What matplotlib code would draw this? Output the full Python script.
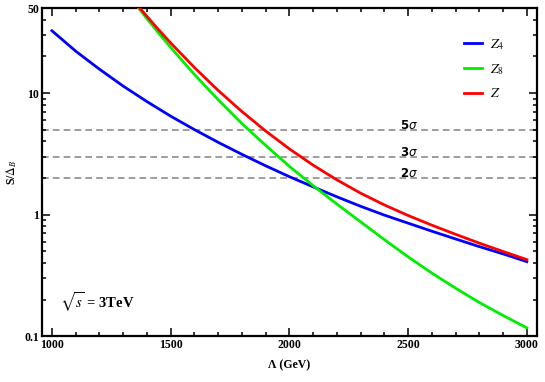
#!/usr/bin/env python3

import matplotlib
matplotlib.use("Agg")
import matplotlib.pyplot as plt
from matplotlib.ticker import FixedLocator, FixedFormatter, LogLocator, MultipleLocator, NullFormatter

# Values (Lambda in GeV, S/Delta_B)
lam_z4 = [1000, 1100, 1200, 1300, 1400, 1500, 1600, 1700, 1800, 1900, 2000,
          2100, 2200, 2300, 2400, 2500, 2600, 2700, 2800, 2900, 3000]
sig_z4 = [32.5, 22.1, 15.7, 11.4, 8.5, 6.45, 5.0, 3.93, 3.13, 2.52, 2.05,
          1.69, 1.40, 1.17, 0.99, 0.85, 0.73, 0.63, 0.545, 0.475, 0.41]

lam_z8 = [1365, 1400, 1450, 1500, 1600, 1700, 1800, 1900, 2000, 2100, 2200,
          2300, 2400, 2500, 2600, 2700, 2800, 2900, 3000]
sig_z8 = [50.0, 40.9, 31.0, 23.7, 14.2, 8.80, 5.60, 3.71, 2.49, 1.73, 1.22,
          0.871, 0.622, 0.449, 0.330, 0.248, 0.189, 0.148, 0.117]

lam_z = [1370, 1400, 1450, 1500, 1600, 1700, 1800, 1900, 2000, 2100, 2200,
         2300, 2400, 2500, 2600, 2700, 2800, 2900, 3000]
sig_z = [50.0, 42.7, 33.0, 25.8, 16.2, 10.5, 7.04, 4.87, 3.47, 2.55, 1.93,
         1.50, 1.20, 0.983, 0.818, 0.688, 0.582, 0.497, 0.426]

sigma_levels = [5, 3, 2]
sigma_labels = ["5$\\sigma$", "3$\\sigma$", "2$\\sigma$"]

plt.rcParams["mathtext.fontset"] = "stix"
plt.rcParams["font.family"] = "Liberation Serif"

fig = plt.figure(figsize=(5.45, 3.82), dpi=100)
ax = fig.add_axes([0.077, 0.12, 0.908, 0.859])

# Significance reference lines
for lvl, lab in zip(sigma_levels, sigma_labels):
    ax.axhline(lvl, color="#8c8c8c", lw=1.2, dashes=(4, 2.5), zorder=1)
    ax.text(2465, lvl * 1.02, lab, fontsize=8.5, fontweight="bold",
            family="DejaVu Sans", math_fontfamily="dejavusans",
            ha="left", va="baseline")

ax.plot(lam_z4, sig_z4, color="#0000ff", lw=2.0, label="$Z_4$", zorder=3)
ax.plot(lam_z8, sig_z8, color="#00ee00", lw=2.0, label="$Z_8$", zorder=3)
ax.plot(lam_z, sig_z, color="#ff0000", lw=2.0, label="$Z$", zorder=3)

ax.set_yscale("log")
ax.set_xlim(958, 3042)
ax.set_ylim(0.1, 50)

ax.xaxis.set_major_locator(MultipleLocator(500))
ax.xaxis.set_minor_locator(MultipleLocator(100))
ax.yaxis.set_major_locator(FixedLocator([0.1, 1, 10, 50]))
ax.yaxis.set_major_formatter(FixedFormatter(["0.1", "1", "10", "50"]))
ax.yaxis.set_minor_locator(LogLocator(base=10, subs=range(2, 10)))
ax.yaxis.set_minor_formatter(NullFormatter())

ax.tick_params(which="both", direction="in", top=True, right=True,
               labelsize=8.5, width=1.1, pad=2)
ax.tick_params(which="major", length=6)
ax.tick_params(which="minor", length=3)
for lbl in ax.get_xticklabels() + ax.get_yticklabels():
    lbl.set_fontweight("bold")
for sp in ax.spines.values():
    sp.set_linewidth(1.6)

ax.set_xlabel("\u039b (GeV)", fontsize=8.5, fontweight="bold", labelpad=6)
ax.set_ylabel("S/$\\Delta_B$", fontsize=8.5, fontweight="bold", labelpad=4)

ax.text(0.036, 0.105, "$\\sqrt{s}$ = 3TeV", transform=ax.transAxes,
        fontsize=10.5, fontweight="bold", ha="left", va="center")

ax.legend(loc="upper right", bbox_to_anchor=(0.96, 0.95), frameon=False,
          fontsize=10, handlelength=1.3, handletextpad=0.6, labelspacing=0.75)

fig.savefig("out.png", dpi=100)
